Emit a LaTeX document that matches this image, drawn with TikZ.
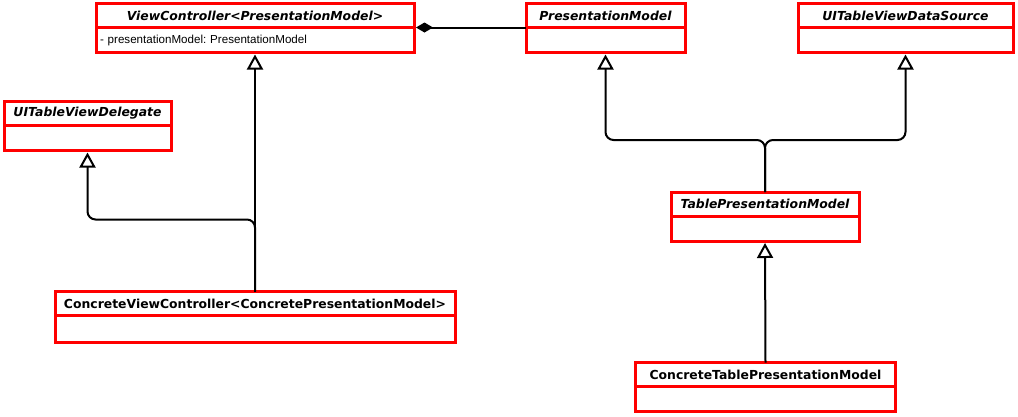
\documentclass[tikz,border=0pt]{standalone}
\usepackage{fontspec}
\setmainfont{DejaVu Sans}
\newfontfamily\attrfont{Liberation Sans}
\usepackage{tikz}
\usetikzlibrary{arrows.meta,positioning}
\frenchspacing
\tikzstyle{clshead}=[draw=red,line width=3pt,outer sep=0pt,inner sep=0pt,minimum height=24pt,font=\fontsize{12.4}{14}\selectfont\bfseries]
\tikzstyle{abstracthead}=[clshead,font=\fontsize{12.4}{14}\selectfont\bfseries\itshape]
\tikzstyle{clsbody}=[draw=red,line width=3pt,outer sep=0pt,inner sep=0pt,minimum height=25pt]
\tikzstyle{inherits}=[line width=2pt,-{Triangle[open,length=15pt,width=16pt]},shorten >=2pt]

\begin{document}
\begin{tikzpicture}[x=1pt,y=-1pt]
    \useasboundingbox (0,0) rectangle (1018,416);
    % top row
    \node [abstracthead,minimum width=318pt] (vc) at (255,15.5) {ViewController<PresentationModel>};
    \node [clsbody,minimum width=318pt,below=0pt of vc,text width=310pt,align=left,
      font=\attrfont\fontsize{11.6}{13}\selectfont] (vcb) {- presentationModel: PresentationModel};
    \node [abstracthead,minimum width=159pt] (pm) at (605.5,15.5) {PresentationModel};
    \node [clsbody,minimum width=159pt,below=0pt of pm] (pmb) {};
    \node [abstracthead,minimum width=215pt] (ds) at (905.5,15.5) {UITableViewDataSource};
    \node [clsbody,minimum width=215pt,below=0pt of ds] (dsb) {};
    % middle row
    \node [abstracthead,minimum width=167pt] (del) at (87.5,113.5) {UITableViewDelegate};
    \node [clsbody,minimum width=167pt,below=0pt of del] (delb) {};
    \node [abstracthead,minimum width=188pt] (tpm) at (765,204) {TablePresentationModel};
    \node [clsbody,minimum width=188pt,below=0pt of tpm] (tpmb) {};
    % bottom row
    \node [clshead,minimum width=400pt] (cvc) at (255,303.5) {ConcreteViewController<ConcretePresentationModel>};
    \node [clsbody,minimum width=400pt,minimum height=27pt,below=0pt of cvc] (cvcb) {};
    \node [clshead,minimum width=260pt] (ctpm) at (765.5,374.5) {ConcreteTablePresentationModel};
    \node [clsbody,minimum width=260pt,below=0pt of ctpm] (ctpmb) {};

    \path (delb.south) ++(0,69) coordinate (dj);
    \path (tpm.north) ++(0,-52) coordinate (tj);

    \draw [line width=2pt,{Diamond[length=17pt,width=10pt]}-,shorten <=2pt] (vc.south east) -- (pm.south west);
    \draw [inherits] (cvc.north) -- (vcb.south);
    \draw [inherits,rounded corners=8pt] (cvc.north) |- (dj) -- (delb.south);
    \draw [inherits,rounded corners=8pt] (tpm.north) -- (tj) -| (pmb.south);
    \draw [inherits,rounded corners=8pt] (tpm.north) -- (tj) -| (dsb.south);
    \draw [inherits] (ctpm.north) -- (tpmb.south);
\end{tikzpicture}
\end{document}
